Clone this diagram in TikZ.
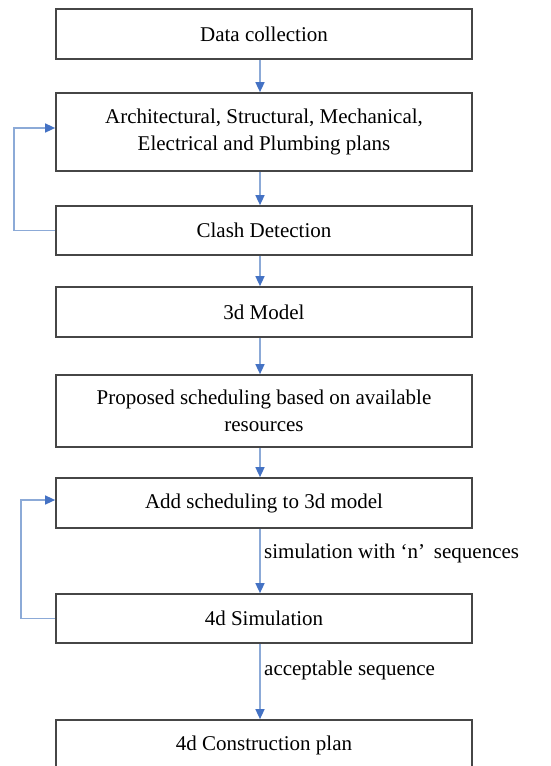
\documentclass[tikz,border=0pt]{standalone}
\usepackage{fontspec}
\setmainfont{Liberation Serif}
\usetikzlibrary{arrows.meta,positioning}
\definecolor{frame}{RGB}{70,70,70}
\definecolor{wire}{RGB}{140,170,215}
\definecolor{tipblue}{RGB}{68,114,196}
\tikzset{
  x=1pt,y=-1pt,
  stage/.style={draw=frame,line width=1.7pt,minimum width=416pt,minimum height=#1,
    align=center,font=\fontsize{21}{27}\selectfont,inner sep=0pt},
  stage/.default=50pt,
  flow/.style={line width=1.5pt,draw=wire,-{Triangle[length=10pt,width=9pt,color=tipblue]}},
  tag/.style={font=\fontsize{21}{24}\selectfont,anchor=west,inner sep=0pt},
}
\begin{document}
\begin{tikzpicture}
  \useasboundingbox (0,0) rectangle (551,766);
  \node[stage] (data) at (264,34) {Data collection};
  \node[stage=78pt] (plans) at (264,132) {Architectural, Structural, Mechanical,\\Electrical and Plumbing plans};
  \node[stage=49pt] (clash) at (264,230.5) {Clash Detection};
  \node[stage] (model) at (264,312) {3d Model};
  \node[stage=72pt] (propose) at (264,411) {Proposed scheduling based on available\\resources};
  \node[stage] (addsched) at (264,503) {Add scheduling to 3d model};
  \node[stage=49pt] (sim) at (264,618.5) {4d Simulation};
  \node[stage] (plan) at (264,745) {4d Construction plan};
  % main chain
  \foreach \a/\b in {data/plans,plans/clash,clash/model,model/propose,propose/addsched,addsched/sim,sim/plan}
    \draw[flow] ([xshift=-4pt]\a.south) -- ([xshift=-4pt]\b.north);
  % feedback loops
  \draw[flow] (clash.west) -- ++(-41,0) |- ([yshift=4pt]plans.west);
  \draw[flow] (sim.west) -- ++(-34,0) |- ([yshift=3pt]addsched.west);
  % edge labels
  \node[tag] (lbln) at (264,553) {simulation with `n'\, sequences};
  \node[tag] (lblok) at (264,670) {acceptable sequence};
\end{tikzpicture}
\end{document}
